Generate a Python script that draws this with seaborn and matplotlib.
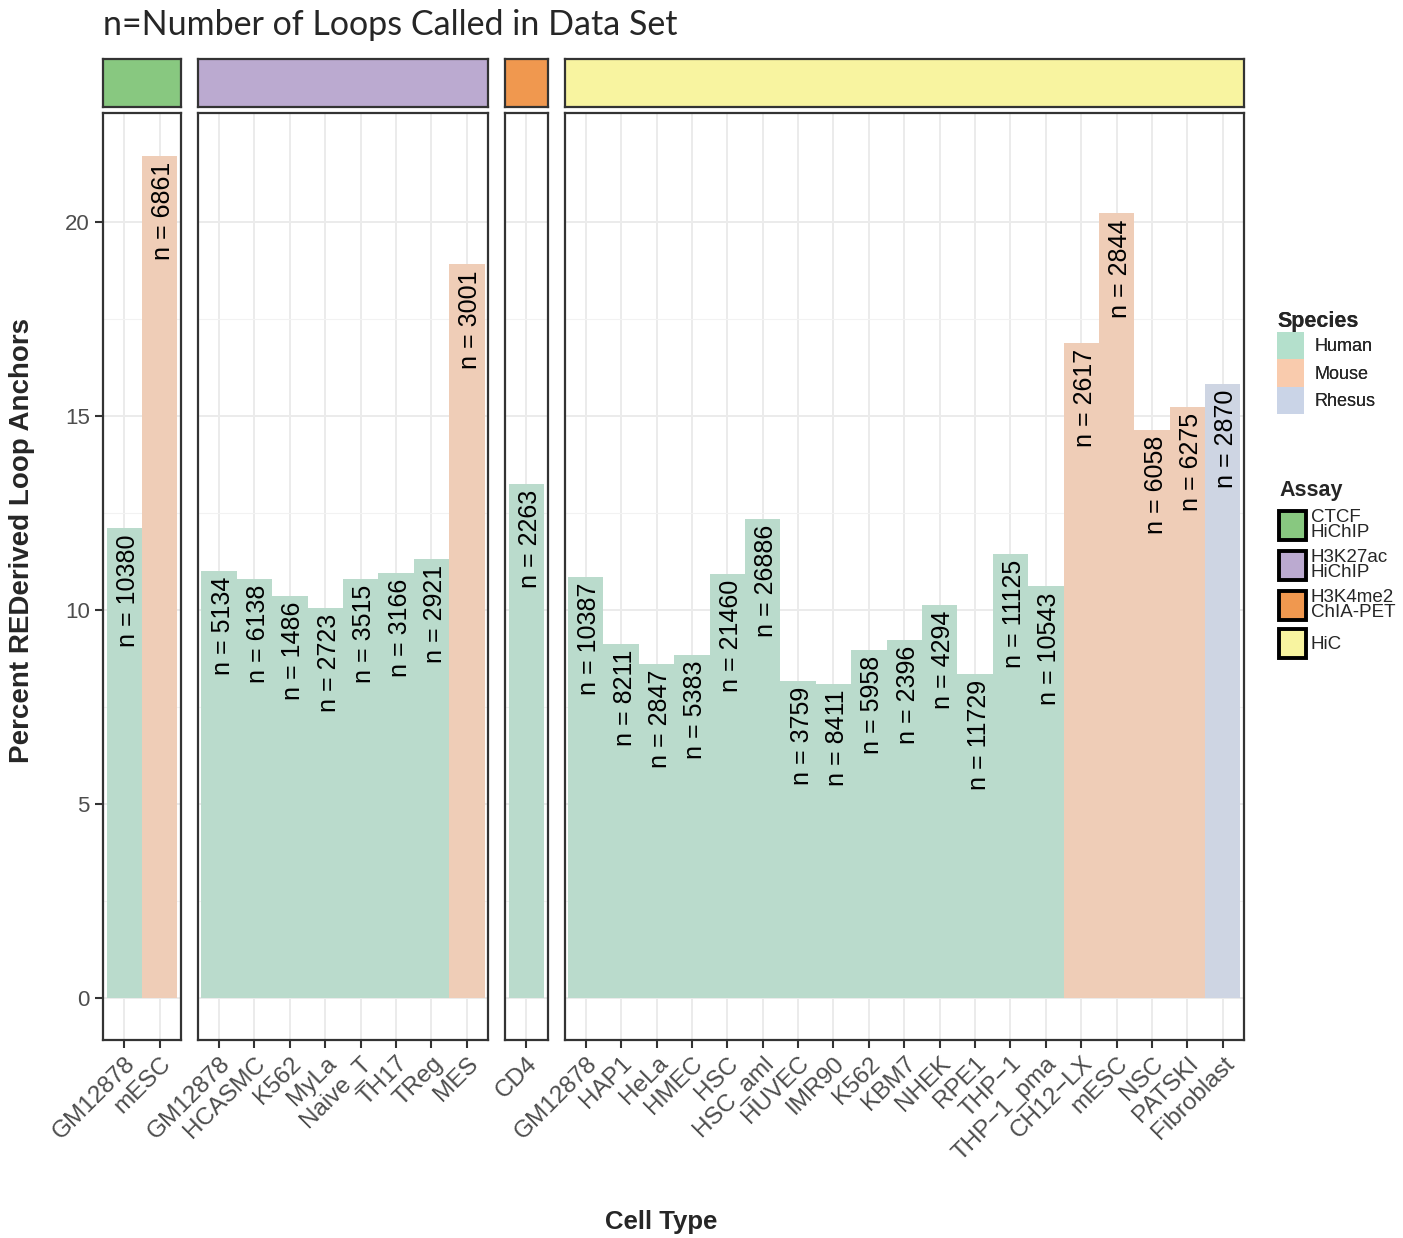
import matplotlib
matplotlib.use("Agg")
import matplotlib.pyplot as plt
from matplotlib import font_manager
from matplotlib.patches import Patch
import seaborn as sns
import pandas as pd

# data
assays = ["CTCF\nHiChIP", "H3K27ac\nHiChIP", "H3K4me2\nChIA-PET", "HiC"]

ctcf_cells = ["GM12878", "mESC"]
ctcf_pct = [12.1, 21.7]
ctcf_n = [10380, 6861]
ctcf_species = ["Human", "Mouse"]

h3k27_cells = ["GM12878", "HCASMC", "K562", "MyLa", "Naive_T", "TH17", "TReg", "MES"]
h3k27_pct = [11.0, 10.8, 10.35, 10.05, 10.8, 10.95, 11.3, 18.9]
h3k27_n = [5134, 6138, 1486, 2723, 3515, 3166, 2921, 3001]
h3k27_species = ["Human"] * 7 + ["Mouse"]

h3k4_cells = ["CD4"]
h3k4_pct = [13.25]
h3k4_n = [2263]
h3k4_species = ["Human"]

hic_cells = ["GM12878", "HAP1", "HeLa", "HMEC", "HSC", "HSC_aml", "HUVEC", "IMR90",
             "K562", "KBM7", "NHEK", "RPE1", "THP\u22121", "THP\u22121_pma",
             "CH12\u2212LX", "mESC", "NSC", "PATSKI", "Fibroblast"]
hic_pct = [10.85, 9.12, 8.6, 8.83, 10.93, 12.34, 8.16, 8.08, 8.97, 9.23, 10.13,
           8.33, 11.43, 10.6, 16.88, 20.21, 14.64, 15.22, 15.82]
hic_n = [10387, 8211, 2847, 5383, 21460, 26886, 3759, 8411, 5958, 2396, 4294,
         11729, 11125, 10543, 2617, 2844, 6058, 6275, 2870]
hic_species = ["Human"] * 14 + ["Mouse"] * 4 + ["Rhesus"]

species_colors = {"Human": "#B4E0CC", "Mouse": "#F9CBAD", "Rhesus": "#CAD4E7"}
assay_colors = ["#88C880", "#BBAAD0", "#F0984F", "#F8F4A0"]

frames = []
for a, cells, pct, n, sp in [
    (assays[0], ctcf_cells, ctcf_pct, ctcf_n, ctcf_species),
    (assays[1], h3k27_cells, h3k27_pct, h3k27_n, h3k27_species),
    (assays[2], h3k4_cells, h3k4_pct, h3k4_n, h3k4_species),
    (assays[3], hic_cells, hic_pct, hic_n, hic_species),
]:
    frames.append(pd.DataFrame({"assay": a, "cell": cells, "pct": pct, "n": n, "species": sp}))
df = pd.concat(frames, ignore_index=True)

sns.set_theme(style="white")
plt.rcParams["font.family"] = ["Liberation Sans", "DejaVu Sans"]

installed = {f.name for f in font_manager.fontManager.ttflist}
narrow = "Liberation Sans Narrow" if "Liberation Sans Narrow" in installed else "Liberation Sans"
label_size = 20 if narrow == "Liberation Sans Narrow" else 18

W, H = 1403, 1238
fig = plt.figure(figsize=(W / 100, H / 100), dpi=100)

# panel layout in pixels (facet widths proportional to number of bars)
x0, x1, gap = 103, 1244, 17
counts = [len(df[df.assay == a]) for a in assays]
units = [c + 0.2 for c in counts]
px_per_unit = (x1 - x0 - gap * 3) / sum(units)
p_top, p_bot = 113, 1040
s_top, s_bot = 59, 107
ymin, ymax = -1.09, 22.8
border = "#333333"

left = x0
for i, a in enumerate(assays):
    sub = df[df.assay == a].reset_index(drop=True)
    w = units[i] * px_per_unit
    ax = fig.add_axes([left / W, 1 - p_bot / H, w / W, (p_bot - p_top) / H])
    sns.barplot(data=sub, x="cell", y="pct", hue="species", palette=species_colors,
                dodge=False, width=1, legend=False, ax=ax, linewidth=0, zorder=2)
    ax.set_xlim(-0.6, len(sub) - 0.4)
    ax.set_ylim(ymin, ymax)
    ax.set_yticks([0, 5, 10, 15, 20])
    ax.set_yticks([2.5, 7.5, 12.5, 17.5], minor=True)
    ax.grid(True, which="major", color="#EBEBEB", lw=1.4, zorder=0)
    ax.grid(True, which="minor", axis="y", color="#F2F2F2", lw=0.8, zorder=0)
    ax.set_axisbelow(True)
    for j, row in sub.iterrows():
        ax.text(j + 0.1, row["pct"] - 0.15, f"n = {row['n']}", rotation=90, ha="center",
                va="top", fontsize=label_size, color="black", zorder=3,
                family=[narrow, "DejaVu Sans"])
    ax.set_xlabel("")
    ax.set_ylabel("")
    ax.tick_params(axis="x", which="major", length=6, width=1.5, color=border,
                   labelsize=17.5, labelcolor="#4D4D4D", pad=3, bottom=True)
    plt.setp(ax.get_xticklabels(), rotation=45, ha="right", rotation_mode="anchor")
    if i == 0:
        ax.tick_params(axis="y", which="major", length=6, width=1.5, color=border,
                       labelsize=16, labelcolor="#4D4D4D", left=True)
    else:
        ax.tick_params(axis="y", which="both", left=False, labelleft=False)
    ax.tick_params(axis="y", which="minor", left=False)
    for s in ax.spines.values():
        s.set_color(border)
        s.set_linewidth(1.6)
        s.set_visible(True)

    # facet strip
    sax = fig.add_axes([left / W, 1 - s_bot / H, w / W, (s_bot - s_top) / H])
    sax.set_facecolor(assay_colors[i])
    sax.set_xticks([])
    sax.set_yticks([])
    for s in sax.spines.values():
        s.set_color(border)
        s.set_linewidth(1.6)

    left += w + gap

fig.text(103 / W, 1 - 25 / H, "n=Number of Loops Called in Data Set", fontsize=24.5,
         ha="left", va="center", family=["Lato", "DejaVu Sans"])
fig.text(22 / W, 1 - 541 / H, "Percent REDerived Loop Anchors", rotation=90, fontsize=20,
         fontweight="bold", ha="center", va="center", family=[narrow, "DejaVu Sans"])
fig.text(661 / W, 1 - 1222 / H, "Cell Type", fontsize=18.5, fontweight="bold",
         ha="center", va="center")

# legends
sp_handles = [Patch(facecolor=c, edgecolor="none", label=k) for k, c in species_colors.items()]
leg1 = fig.legend(handles=sp_handles, title="Species", loc="upper left",
                  bbox_to_anchor=(1277 / W, 1 - 311 / H), frameon=False, fontsize=13,
                  title_fontproperties={"weight": "bold", "size": 15.5},
                  handlelength=1.5, handleheight=1.95, labelspacing=0, handletextpad=0.55,
                  borderaxespad=0, borderpad=0)
leg1._legend_box.align = "left"
fig.add_artist(leg1)

as_handles = [Patch(facecolor=c, edgecolor="black", linewidth=2.8, label=a)
              for a, c in zip(assays, assay_colors)]
leg2 = fig.legend(handles=as_handles, title="Assay", loc="upper left",
                  bbox_to_anchor=(1279 / W, 1 - 480 / H), frameon=False, fontsize=13.5,
                  title_fontproperties={"weight": "bold", "size": 15.5},
                  handlelength=1.45, handleheight=2.0, labelspacing=0.45, handletextpad=0.25,
                  borderaxespad=0, borderpad=0)
leg2._legend_box.align = "left"
for t in leg2.get_texts():
    t.set_linespacing(0.8)

fig.savefig("out.png", dpi=100)
